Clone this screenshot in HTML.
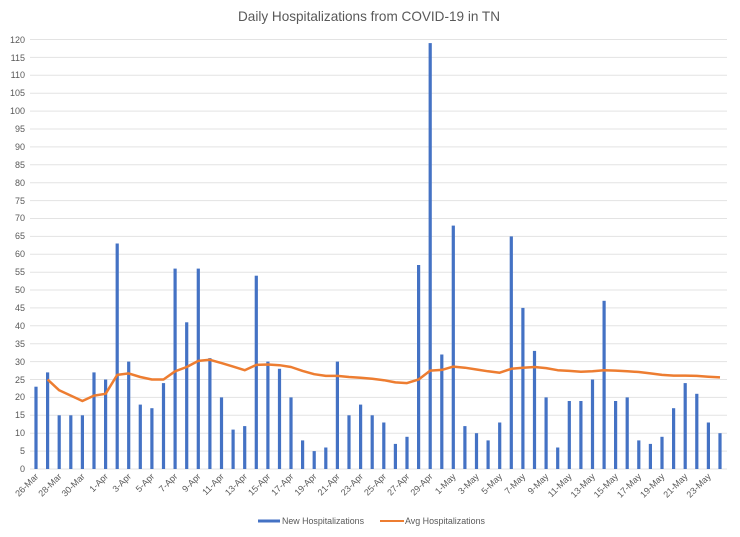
<!DOCTYPE html>
<html><head><meta charset="utf-8"><style>
html,body{margin:0;padding:0;background:#fff;}
svg{display:block;font-family:"Liberation Sans",sans-serif;}
.yl{font-size:9px;fill:#595959;text-anchor:end;}
.xl{font-size:9px;fill:#595959;text-anchor:end;}
</style></head><body>
<svg id="c" width="740" height="537" viewBox="0 0 740 537" xmlns="http://www.w3.org/2000/svg">
<rect width="740" height="537" fill="#fff"/>
<text x="369" y="21" font-size="14" fill="#595959" text-anchor="middle" textLength="262" lengthAdjust="spacingAndGlyphs">Daily Hospitalizations from COVID-19 in TN</text>
<g id="grid" stroke="#e3e3e3" stroke-width="1"></g>
<g class="yl">
<text x="25" y="472">0</text><text x="25" y="454">5</text><text x="25" y="436">10</text><text x="25" y="418">15</text><text x="25" y="400">20</text><text x="25" y="383">25</text><text x="25" y="365">30</text><text x="25" y="347">35</text><text x="25" y="329">40</text><text x="25" y="311">45</text><text x="25" y="293">50</text><text x="25" y="275">55</text><text x="25" y="257">60</text><text x="25" y="239">65</text><text x="25" y="221">70</text><text x="25" y="204">75</text><text x="25" y="186">80</text><text x="25" y="168">85</text><text x="25" y="150">90</text><text x="25" y="132">95</text><text x="25" y="114">100</text><text x="25" y="96">105</text><text x="25" y="78">110</text><text x="25" y="61">115</text><text x="25" y="43">120</text>
</g>
<g id="bars" fill="#4472c4"></g>
<polyline id="avg" fill="none" stroke="#ed7d31" stroke-width="2.5" stroke-linejoin="round"/>
<g class="xl">
<text transform="translate(39,477) rotate(-45)">26-Mar</text>
<text transform="translate(62.2,477) rotate(-45)">28-Mar</text>
<text transform="translate(85.4,477) rotate(-45)">30-Mar</text>
<text transform="translate(108.6,477) rotate(-45)">1-Apr</text>
<text transform="translate(131.7,477) rotate(-45)">3-Apr</text>
<text transform="translate(154.9,477) rotate(-45)">5-Apr</text>
<text transform="translate(178.1,477) rotate(-45)">7-Apr</text>
<text transform="translate(201.3,477) rotate(-45)">9-Apr</text>
<text transform="translate(224.5,477) rotate(-45)">11-Apr</text>
<text transform="translate(247.7,477) rotate(-45)">13-Apr</text>
<text transform="translate(270.9,477) rotate(-45)">15-Apr</text>
<text transform="translate(294,477) rotate(-45)">17-Apr</text>
<text transform="translate(317.2,477) rotate(-45)">19-Apr</text>
<text transform="translate(340.4,477) rotate(-45)">21-Apr</text>
<text transform="translate(363.6,477) rotate(-45)">23-Apr</text>
<text transform="translate(386.8,477) rotate(-45)">25-Apr</text>
<text transform="translate(410,477) rotate(-45)">27-Apr</text>
<text transform="translate(433.2,477) rotate(-45)">29-Apr</text>
<text transform="translate(456.3,477) rotate(-45)">1-May</text>
<text transform="translate(479.5,477) rotate(-45)">3-May</text>
<text transform="translate(502.7,477) rotate(-45)">5-May</text>
<text transform="translate(525.9,477) rotate(-45)">7-May</text>
<text transform="translate(549.1,477) rotate(-45)">9-May</text>
<text transform="translate(572.3,477) rotate(-45)">11-May</text>
<text transform="translate(595.5,477) rotate(-45)">13-May</text>
<text transform="translate(618.6,477) rotate(-45)">15-May</text>
<text transform="translate(641.8,477) rotate(-45)">17-May</text>
<text transform="translate(665,477) rotate(-45)">19-May</text>
<text transform="translate(688.2,477) rotate(-45)">21-May</text>
<text transform="translate(711.4,477) rotate(-45)">23-May</text>
</g>
<rect x="258" y="519.5" width="22" height="3" fill="#4472c4"/>
<text x="282" y="524" font-size="9" fill="#595959" textLength="82" lengthAdjust="spacingAndGlyphs">New Hospitalizations</text>
<line x1="380" y1="521" x2="404" y2="521" stroke="#ed7d31" stroke-width="2"/>
<text x="405" y="524" font-size="9" fill="#595959" textLength="80" lengthAdjust="spacingAndGlyphs">Avg Hospitalizations</text>
</svg>
<script>
(function(){
var NS="http://www.w3.org/2000/svg";
var y0=469,k=3.579;
var g=document.getElementById("grid");
for(var v=0;v<=120;v+=5){var l=document.createElementNS(NS,"line");var y=(y0-v*k).toFixed(1);
l.setAttribute("x1",30);l.setAttribute("x2",727);l.setAttribute("y1",y);l.setAttribute("y2",y);g.appendChild(l);}
var d=[23,27,15,15,15,27,25,63,30,18,17,24,56,41,56,31,20,11,12,54,30,28,20,8,5,6,30,15,18,15,13,7,9,57,119,32,68,12,10,8,13,65,45,33,20,6,19,19,25,47,19,20,8,7,9,17,24,21,13,10];
var a=[null,25,22,20.5,19,20.5,21,26.3,26.7,25.7,25,25,27.3,28.5,30.2,30.5,29.6,28.6,27.6,29.1,29.2,29,28.5,27.4,26.5,26,26,25.7,25.5,25.2,24.8,24.2,24,25,27.5,27.7,28.6,28.3,27.8,27.3,26.9,28,28.3,28.5,28.2,27.6,27.4,27.2,27.3,27.6,27.5,27.3,27.1,26.7,26.3,26.1,26.1,26,25.8,25.6];
var b=document.getElementById("bars"),pts=[];
for(var i=0;i<d.length;i++){var x=36+11.593*i;var r=document.createElementNS(NS,"rect");
r.setAttribute("x",(x-1.6).toFixed(1));r.setAttribute("width",3.2);r.setAttribute("y",(y0-d[i]*k).toFixed(1));r.setAttribute("height",(d[i]*k).toFixed(1));b.appendChild(r);
if(a[i]!=null)pts.push(x.toFixed(1)+","+(y0-a[i]*k).toFixed(1));}
document.getElementById("avg").setAttribute("points",pts.join(" "));
})();
</script>
</body></html>
